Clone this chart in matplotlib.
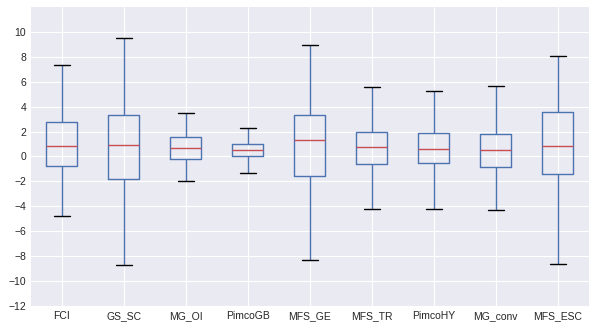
import matplotlib
matplotlib.use("Agg")
import matplotlib.pyplot as plt
import numpy as np

plt.style.use("seaborn-v0_8-darkgrid")
plt.rcParams["font.family"] = ["Liberation Sans", "DejaVu Sans"]

funds = ["FCI", "GS_SC", "MG_OI", "PimcoGB", "MFS_GE", "MFS_TR", "PimcoHY", "MG_conv", "MFS_ESC"]
whisker_low = [-4.75, -8.69, -2.01, -1.29, -8.34, -4.18, -4.18, -4.26, -8.61]
q1 = [-0.80, -1.85, -0.24, 0.00, -1.53, -0.64, -0.56, -0.88, -1.37]
median = [0.80, 0.88, 0.64, 0.48, 1.29, 0.72, 0.56, 0.48, 0.80]
q3 = [2.73, 3.30, 1.53, 0.97, 3.30, 1.93, 1.85, 1.77, 3.54]
whisker_high = [7.32, 9.49, 3.46, 2.25, 8.93, 5.55, 5.23, 5.63, 8.05]
yticks = list(range(-12, 11, 2))

stats = [
    dict(label=n, whislo=lo, q1=a, med=m, q3=b, whishi=hi, fliers=[])
    for n, lo, a, m, b, hi in zip(funds, whisker_low, q1, median, q3, whisker_high)
]

fig = plt.figure(figsize=(5.96, 3.29), dpi=100)
ax = fig.add_axes([0.052, 0.070, 0.936, 0.909])

blue = "#4C72B0"
ax.bxp(
    stats,
    widths=0.5,
    showfliers=False,
    boxprops=dict(color=blue, linewidth=1.0),
    whiskerprops=dict(color=blue, linewidth=1.0),
    medianprops=dict(color="#C44E52", linewidth=1.0),
    capprops=dict(color="k", linewidth=1.0),
)

ax.set_xlim(0.5, 9.5)
ax.set_ylim(-12, 12)
ax.set_yticks(yticks)
ax.tick_params(axis="both", labelsize=7.5, colors="0.15", length=0)
for s in ax.spines.values():
    s.set_visible(False)

fig.savefig("out.png", dpi=100)
